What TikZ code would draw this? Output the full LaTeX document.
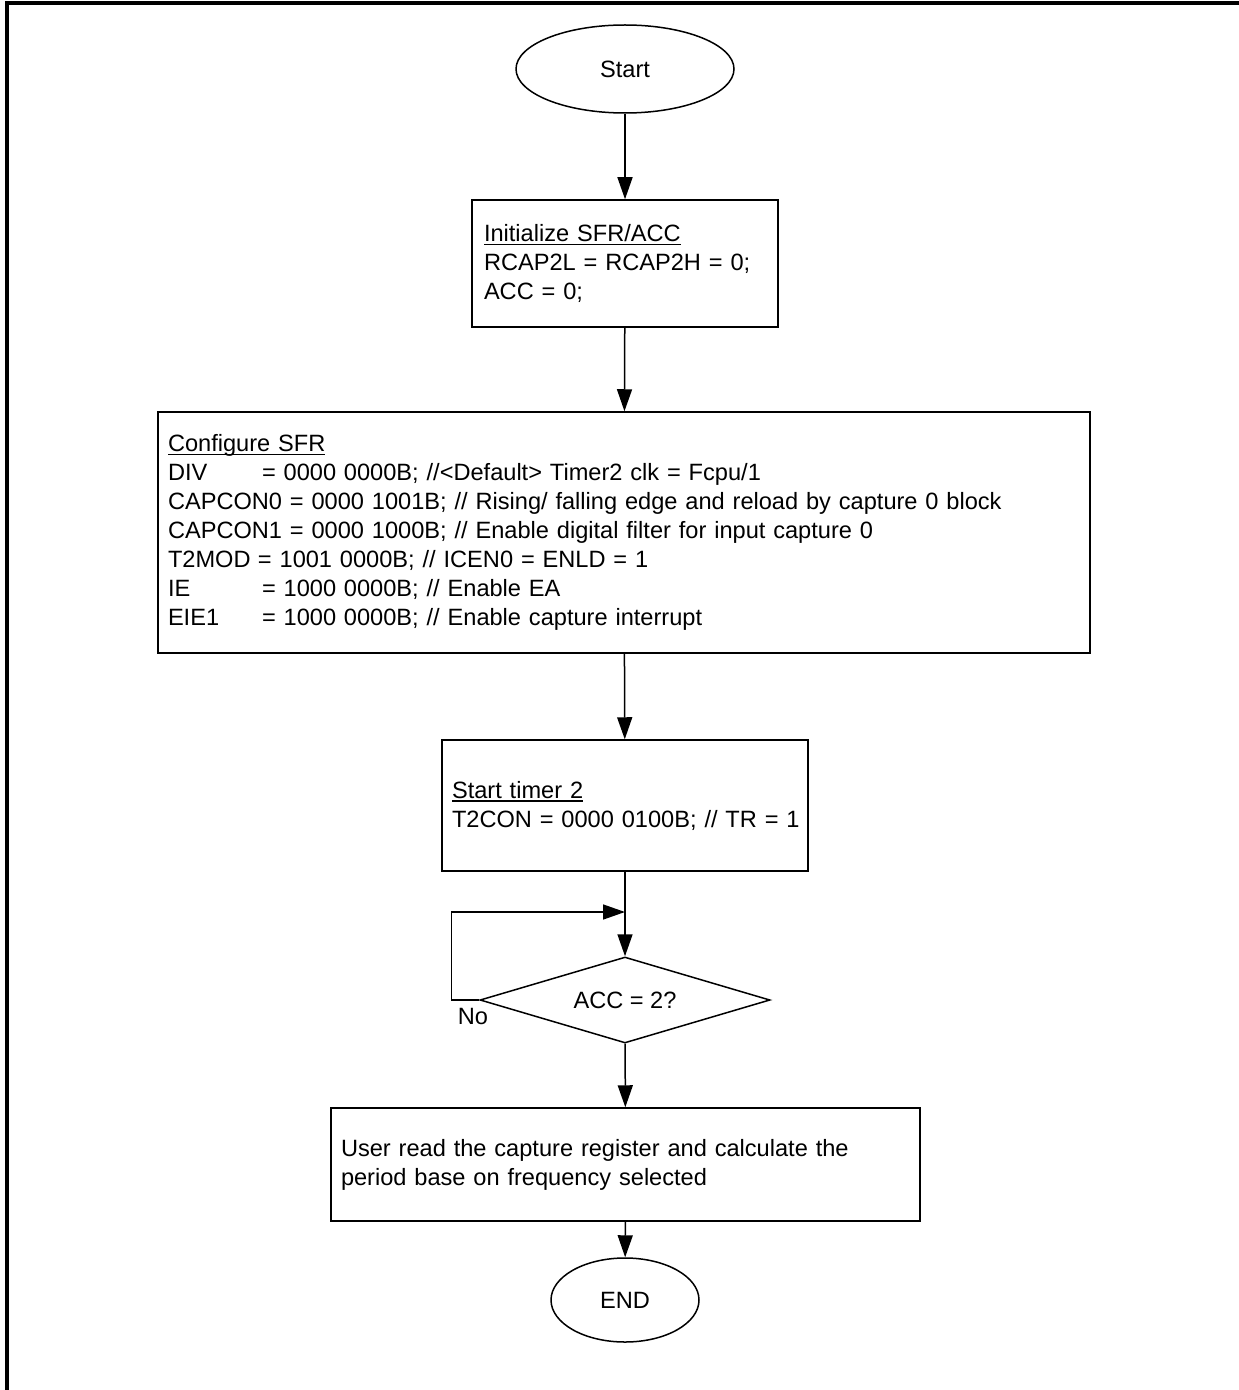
\documentclass[tikz,border=0pt]{standalone}
\usepackage{fontspec}
\setmainfont{Liberation Sans}
\usetikzlibrary{shapes.geometric,arrows.meta}

% underline at a fixed depth below the baseline
\newcommand\headline[1]{\setbox0\hbox{#1}\rlap{\rule[-1.8pt]{\wd0}{0.6pt}}\box0}

\begin{document}
\begin{tikzpicture}[
  x=0.5pt, y=-0.5pt,
  line width=0.75pt,
  font=\fontsize{11.8}{14.5}\selectfont,
  arr/.style={-{Triangle[length=11pt,width=7.5pt]}},
  term/.style={draw, ellipse, inner sep=0pt},
  procbox/.style={draw, rectangle, inner ysep=0pt, align=left},
  decision/.style={draw, diamond, inner sep=0pt, aspect=3.4,
    minimum width=145pt, minimum height=43pt}
]
% page extent
\useasboundingbox (0,0) rectangle (1238,1390);

% outer frame (top and left edges)
\draw[line width=1.6pt] (7,1400) -- (7,3) -- (1250,3);

% flow steps
\node[term, minimum width=109pt, minimum height=44pt] (start) at (625,69) {Start};

\node[procbox, minimum height=63.5pt, inner xsep=6pt, text width=141pt]
  (init) at (625,263.5)
  {\headline{Initialize SFR/ACC}\\
   \mbox{RCAP2L = RCAP2H = 0;}\\
   ACC = 0;};

\node[procbox, minimum height=120.5pt, inner xsep=5pt, text width=456pt]
  (cfg) at (624,532.5)
  {\headline{Configure SFR}\\
   \makebox[47pt][l]{DIV}= 0000 0000B; //<Default> Timer2 clk = Fcpu/1\\
   CAPCON0 = 0000 1001B; // Rising/ falling edge and reload by capture 0 block\\
   CAPCON1 = 0000 1000B; // Enable digital filter for input capture 0\\
   \makebox[45pt][l]{T2MOD}= 1001 0000B; // ICEN0 = ENLD = 1\\
   \makebox[47pt][l]{IE}= 1000 0000B; // Enable EA\\
   \makebox[47pt][l]{EIE1}= 1000 0000B; // Enable capture interrupt};

\node[procbox, minimum height=65.5pt, inner xsep=5pt, text width=173pt]
  (timer) at (625,805.5)
  {\headline{Start timer 2}\\
   \mbox{T2CON = 0000 0100B; // TR = 1}};

\node[decision] (chk) at (625,1000) {ACC = 2?};
\node (no) at (473,1016) {No};

\node[procbox, minimum height=56.5pt, inner xsep=5pt, text width=284.5pt]
  (user) at (625.5,1164.5)
  {User read the capture register and calculate the\\
   period base on frequency selected};

\node[term, minimum width=74pt, minimum height=42pt] (end) at (625,1300) {END};

% connectors
\coordinate (join) at (625,912);
\draw[arr] (start) -- (init);
\draw[arr] (init) -- (cfg);
\draw[arr] (cfg) -- (timer);
\draw[arr] (timer) -- (chk);
\draw[arr] (chk.west) -- ++(-28,0) |- (join);
\draw[arr] (chk) -- (user);
\draw[arr] (user) -- (end);
\end{tikzpicture}
\end{document}
